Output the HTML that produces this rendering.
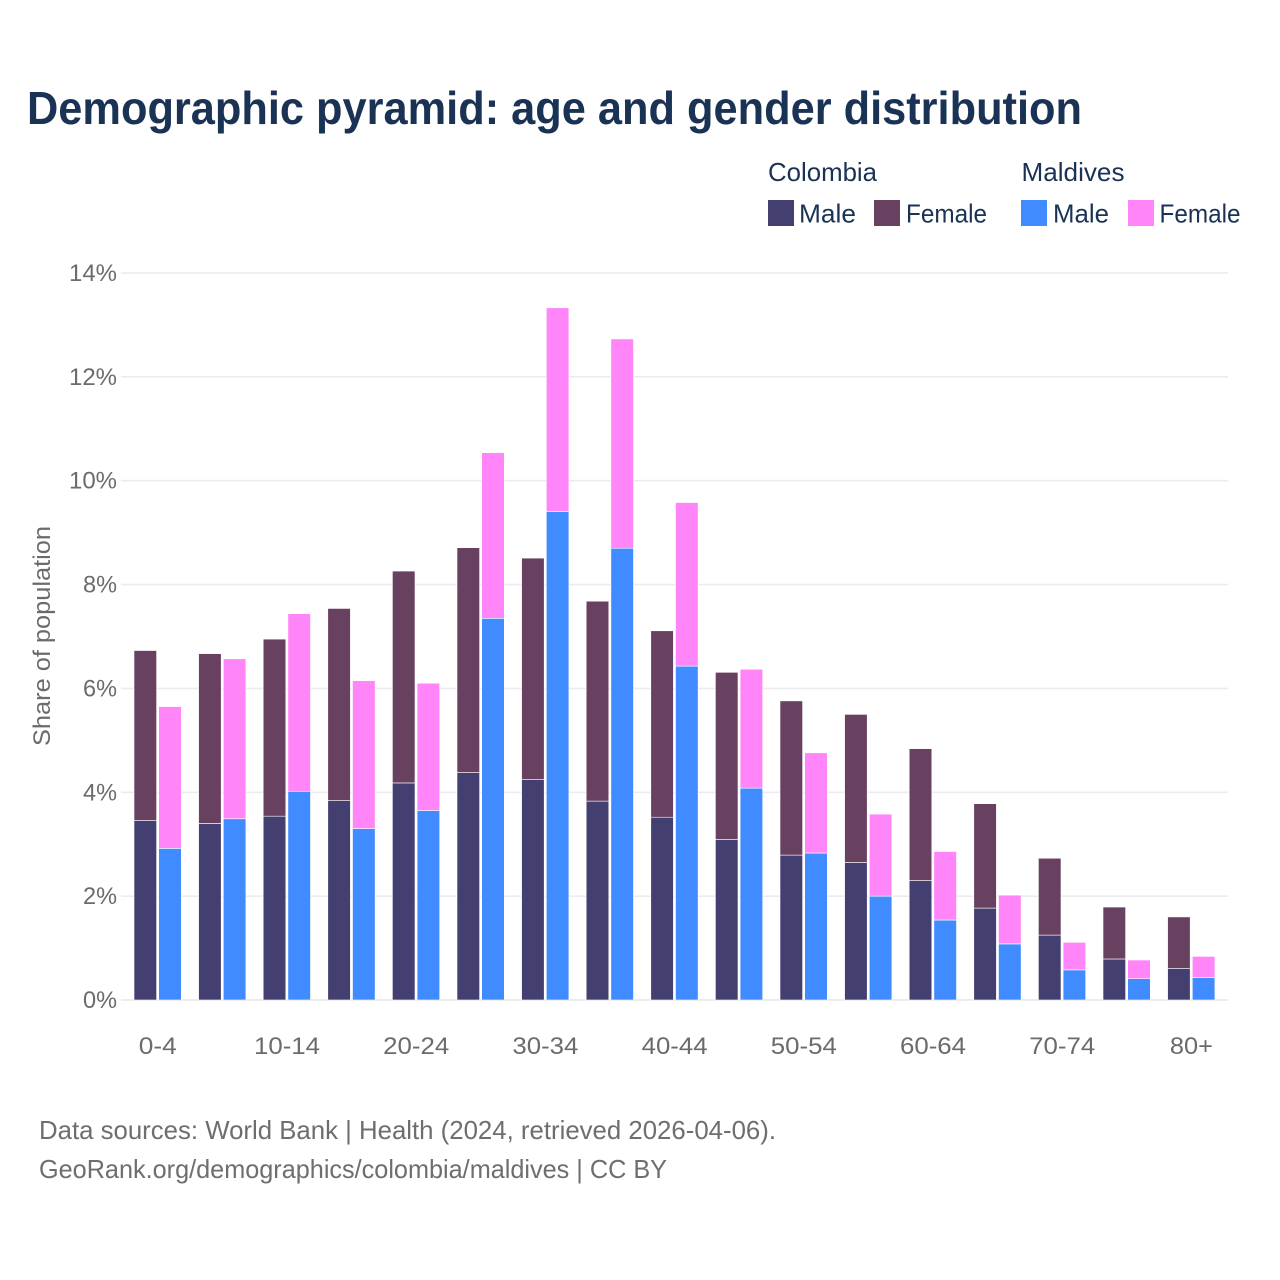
<!DOCTYPE html>
<html lang="en">
<head>
<meta charset="utf-8">
<title>Demographic pyramid</title>
<style>
html,body{margin:0;padding:0;background:#fff;}
svg{display:block;font-family:"Liberation Sans",sans-serif;}
</style>
</head>
<body>
<svg id="chart" xmlns="http://www.w3.org/2000/svg" width="1280" height="1280" viewBox="0 0 1280 1280">
  <rect width="1280" height="1280" fill="#ffffff"/>
  <text x="27" y="124" font-size="46" font-weight="700" fill="#1a3254" textLength="1055" lengthAdjust="spacingAndGlyphs">Demographic pyramid: age and gender distribution</text>

  <g font-size="26" fill="#1a3254">
    <text x="768" y="181" textLength="109" lengthAdjust="spacingAndGlyphs">Colombia</text>
    <text x="1021.5" y="181" textLength="103" lengthAdjust="spacingAndGlyphs">Maldives</text>
    <rect x="768" y="200" width="26" height="26" fill="#433f70"/>
    <text x="799" y="222.5" textLength="57" lengthAdjust="spacingAndGlyphs">Male</text>
    <rect x="874" y="200" width="26" height="26" fill="#684060"/>
    <text x="906" y="222.5" textLength="81" lengthAdjust="spacingAndGlyphs">Female</text>
    <rect x="1021" y="200" width="26" height="26" fill="#3f8bff"/>
    <text x="1053" y="222.5" textLength="56" lengthAdjust="spacingAndGlyphs">Male</text>
    <rect x="1128" y="200" width="26" height="26" fill="#ff85f8"/>
    <text x="1159.5" y="222.5" textLength="81" lengthAdjust="spacingAndGlyphs">Female</text>
  </g>

  <g id="grid"></g>
  <g id="yticks" font-size="24" fill="#6b6b6b" text-anchor="end"></g>
  <g id="bars"></g>
  <g id="xticks" font-size="24" fill="#6b6b6b" text-anchor="middle"></g>

  <text transform="translate(50,636) rotate(-90)" font-size="24" fill="#6b6b6b" text-anchor="middle" textLength="220" lengthAdjust="spacingAndGlyphs">Share of population</text>

  <g font-size="26" fill="#6e6e6e">
    <text x="39" y="1139" textLength="737" lengthAdjust="spacingAndGlyphs">Data sources: World Bank | Health (2024, retrieved 2026-04-06).</text>
    <text x="39" y="1178" textLength="628" lengthAdjust="spacingAndGlyphs">GeoRank.org/demographics/colombia/maldives | CC BY</text>
  </g>
</svg>
<script>
var categories = ["0-4","5-9","10-14","15-19","20-24","25-29","30-34","35-39","40-44","45-49","50-54","55-59","60-64","65-69","70-74","75-79","80+"];
var colombiaMale = [3.46,3.40,3.54,3.84,4.18,4.38,4.25,3.83,3.52,3.09,2.79,2.65,2.30,1.77,1.25,0.79,0.61];
var colombiaFemale = [3.27,3.27,3.41,3.70,4.08,4.33,4.26,3.85,3.59,3.22,2.97,2.85,2.54,2.01,1.48,1.00,0.99];
var maldivesMale = [2.92,3.49,4.02,3.30,3.65,7.35,9.41,8.70,6.43,4.08,2.83,2.00,1.54,1.08,0.58,0.41,0.43];
var maldivesFemale = [2.73,3.08,3.42,2.85,2.45,3.19,3.92,4.03,3.15,2.29,1.93,1.58,1.32,0.94,0.53,0.36,0.41];
var yTicks = [0,2,4,6,8,10,12,14];
var xTickLabels = ["0-4","10-14","20-24","30-34","40-44","50-54","60-64","70-74","80+"];

var NS = "http://www.w3.org/2000/svg";
function yScale(v){ return 1000 - v * (727 / 14); }
function xBand(i){ return 157.8 + i * 64.6; }
function make(tag, attrs, parent){
  var el = document.createElementNS(NS, tag);
  for (var k in attrs) el.setAttribute(k, attrs[k]);
  parent.appendChild(el);
  return el;
}
var grid = document.getElementById("grid");
var yt = document.getElementById("yticks");
var xt = document.getElementById("xticks");
var bars = document.getElementById("bars");

yTicks.forEach(function(t){
  var line = make("line", {x1:121, x2:1228, y1:yScale(t), y2:yScale(t), stroke:"#ececf0", "stroke-width":t === 0 ? 2 : 1.6}, grid);
  
  
  var label = make("text", {x:117, y:yScale(t) + 8}, yt);
  label.textContent = t + "%";
  
  
  label.setAttribute('textLength', t >= 10 ? 48 : 34);
  label.setAttribute('lengthAdjust', 'spacingAndGlyphs');
});

xTickLabels.forEach(function(name){
  var i = categories.indexOf(name);
  var label = make("text", {x:xBand(i), y:1054}, xt);
  label.textContent = name;
  
  
  label.setAttribute('textLength', name.length >= 5 ? 66 : (name === "80+" ? 43 : 38));
  label.setAttribute('lengthAdjust', 'spacingAndGlyphs');
});

function drawStack(i, x, male, female, maleColor, femaleColor){
  var w = 22.6;
  var segMale = make("rect", {x:x, y:yScale(male), width:w, height:yScale(0) - yScale(male), fill:maleColor, stroke:"#ffffff", "stroke-width":0.6}, bars);
  
  
  var segFemale = make("rect", {x:x, y:yScale(male + female), width:w, height:yScale(male) - yScale(male + female), fill:femaleColor, stroke:"#ffffff", "stroke-width":0.6}, bars);
  
  
}
categories.forEach(function(c, i){
  var cx = xBand(i);
  drawStack(i, cx - 23.8, colombiaMale[i], colombiaFemale[i], "#433f70", "#684060");
  drawStack(i, cx + 0.9, maldivesMale[i], maldivesFemale[i], "#3f8bff", "#ff85f8");
});
</script>
</body>
</html>
